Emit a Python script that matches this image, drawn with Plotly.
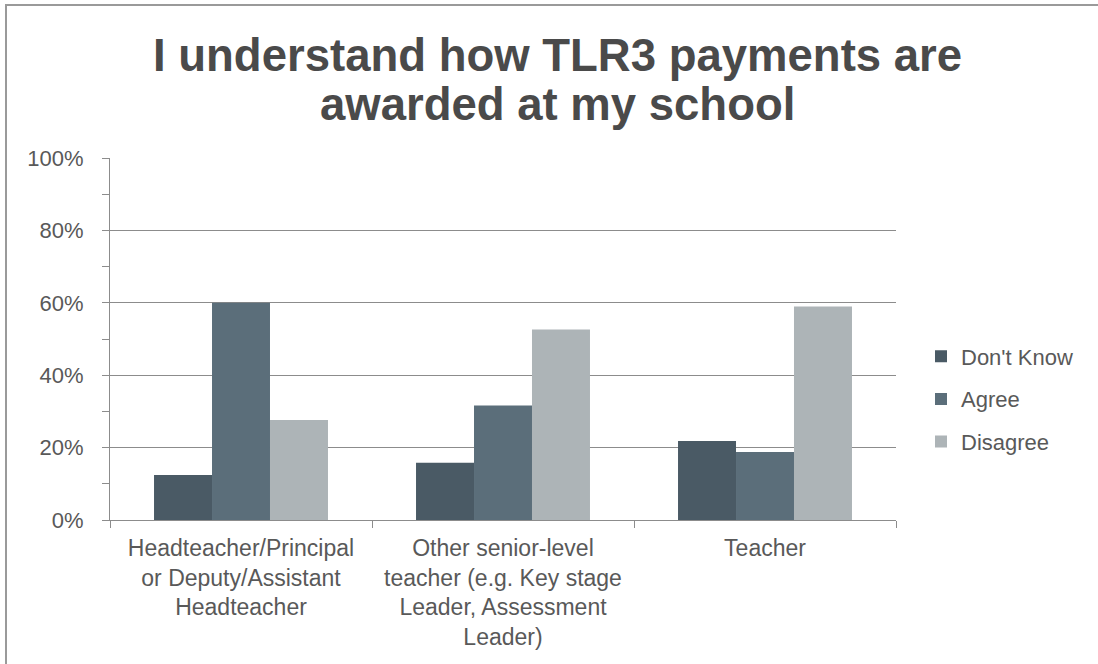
import plotly.graph_objects as go

categories = [
    "Headteacher/Principal<br>or Deputy/Assistant<br>Headteacher",
    "Other senior-level<br>teacher (e.g. Key stage<br>Leader, Assessment<br>Leader)",
    "Teacher",
]
dont_know = [12.4, 15.8, 21.8]
agree = [60.0, 31.6, 18.8]
disagree = [27.6, 52.6, 59.0]

series_names = ["Don't Know", "Agree", "Disagree"]
series_colors = ["#4a5a65", "#5b6e7a", "#adb4b7"]
title_lines = ["I understand how TLR3 payments are", "awarded at my school"]

W, H = 1098, 664
L, R, T, B = 110, 202, 158, 144
PW, PH = W - L - R, H - T - B
font = "Liberation Sans, Arial, sans-serif"
grey = "#8c8c8c"

fig = go.Figure()
for name, vals, col in zip(series_names, [dont_know, agree, disagree], series_colors):
    fig.add_trace(go.Bar(x=categories, y=vals, name=name, marker_color=col,
                         marker_line_width=0, legendgroup=name))

fig.update_layout(
    width=W, height=H,
    margin=dict(l=L, r=R, t=T, b=B),
    paper_bgcolor="white", plot_bgcolor="white",
    barmode="group", bargap=0.336, bargroupgap=0,
    font=dict(family=font, color="#595959", size=22),
    legend=dict(x=(921 - L) / PW, xanchor="left", y=(H - B - 399) / PH, yanchor="middle",
                font=dict(size=22, color="#595959"), itemwidth=30,
                tracegroupgap=11, bgcolor="rgba(0,0,0,0)"),
    showlegend=True,
)

# title as two separate lines (tighter line spacing than plotly's title)
for i, line in enumerate(title_lines):
    fig.add_annotation(text=line, xref="paper", yref="paper",
                       x=(557 - L) / PW, xanchor="center",
                       y=1 + (T - (56 + 48 * i)) / PH, yanchor="middle",
                       showarrow=False,
                       font=dict(family=font, size=45.5, color="#4a4a4a", weight="bold"))

fig.update_xaxes(showline=True, linecolor=grey, linewidth=1,
                 ticks="outside", tickson="boundaries", ticklen=7, tickcolor=grey,
                 ticklabelstandoff=7,
                 tickfont=dict(size=23, color="#595959"), showgrid=False)
fig.update_yaxes(range=[0, 100], dtick=20, ticksuffix="%", showline=True,
                 linecolor=grey, linewidth=1,
                 gridcolor=grey, gridwidth=1, ticks="outside", ticklen=7,
                 tickcolor=grey, ticklabelstandoff=14,
                 minor=dict(dtick=10, ticks="outside", ticklen=7, tickcolor=grey,
                            showgrid=False),
                 tickfont=dict(size=22, color="#595959"), zeroline=False)

# outer chart frame (only top and left edges fall inside the picture)
fig.add_shape(type="rect", xref="paper", yref="paper",
              x0=-(L - 6) / PW, x1=(W + 20 - L) / PW,
              y0=-(B + 20) / PH, y1=1 + (T - 5) / PH,
              line=dict(color="#9a9a9a", width=2), layer="below")

fig.write_html("out.html", config={"displayModeBar": False},
               post_script="document.body.style.margin='0';")
